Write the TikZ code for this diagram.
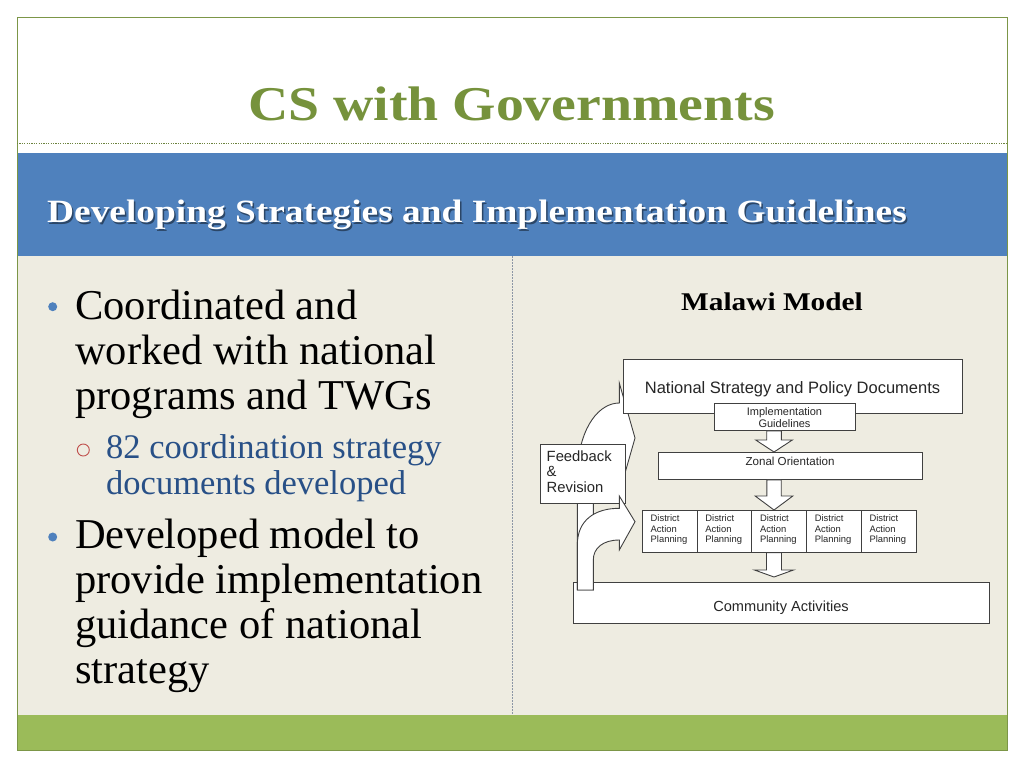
\documentclass[tikz,border=0pt]{standalone}
\usepackage{fontspec}
\setmainfont{Liberation Serif}
\newfontfamily\geob[FakeStretch=1.15]{Liberation Serif}
\newfontfamily\arialf{Liberation Sans}
\usetikzlibrary{calc}
\definecolor{titlegreen}{RGB}{118,146,60}
\definecolor{bandblue}{RGB}{79,129,189}
\definecolor{beige}{RGB}{238,236,225}
\definecolor{bargreen}{RGB}{155,187,89}
\definecolor{subblue}{RGB}{40,80,135}
\definecolor{redc}{RGB}{192,80,77}
\definecolor{linegray}{RGB}{64,64,64}
\definecolor{divgray}{RGB}{140,150,165}
\newcommand\dnarrow[6]{%
  \draw[blk] let \p1=(ax |- #1), \p2=(ax |- #2) in
    (\x1-#3pt,\y1) -- (\x1+#3pt,\y1) -- (\x1+#3pt,\y2+#5pt) -- (\x1+#4pt,\y2+#5pt)
    -- (\x1,\y2+#6pt) -- (\x1-#4pt,\y2+#5pt) -- (\x1-#3pt,\y2+#5pt) -- cycle;}
\begin{document}
\begin{tikzpicture}[x=1pt,y=-1pt,
  box/.style={draw=linegray, fill=white, line width=0.9pt, inner sep=0pt, anchor=north west},
  blk/.style={draw=linegray, fill=white, line width=0.9pt, line join=miter},
  dtxt/.style={font=\arialf\fontsize{9.4}{10.3}\selectfont, align=left, anchor=north west, inner sep=0pt, text=black!85},
  lbl/.style={inner sep=0pt, text=black!85, anchor=base},
  bul/.style={font=\fontsize{42.5}{45}\selectfont, anchor=base west, inner sep=0pt, text=black},
  sub/.style={font=\fontsize{34.5}{36}\selectfont, anchor=base west, inner sep=0pt, text=subblue},
  dot/.style={circle, fill=bandblue, inner sep=0pt, minimum size=9pt},
]
\useasboundingbox (0,0) rectangle (1024,768);
\fill[white] (0,0) rectangle (1024,768);
% slide frame
\fill[beige] (17,256) rectangle (1007,715);
\fill[bandblue] (17,153) rectangle (1007,256);
\fill[bargreen] (17,715) rectangle (1007,750);
\draw[bargreen!80!black, line width=0.8pt] (17,17) rectangle (1007,750);
\draw[bargreen!70!black, line width=0.7pt, dash pattern=on 1.2pt off 1.2pt] (17,143) -- (1007,143);
\draw[divgray, line width=0.8pt, dash pattern=on 1.5pt off 1.5pt] (512,256) -- (512,715);
% titles
\node[anchor=base, inner sep=0pt, text=titlegreen, font=\geob\bfseries\fontsize{48.5}{50}\selectfont] (title) at (511.5,120) {CS with Governments};
\node[anchor=base west, inner sep=0pt, text=black, opacity=0.45, font=\geob\bfseries\fontsize{32.5}{34}\selectfont] (bandshadow) at (48.5,224) {Developing Strategies and Implementation Guidelines};
\node[anchor=base west, inner sep=0pt, text=white, font=\geob\bfseries\fontsize{32.5}{34}\selectfont] (band) at (47,222.5) {Developing Strategies and Implementation Guidelines};
% left column
\node[dot] (d1) at (52.7,306.7) {};
\node[bul] (b1a) at (75,319) {Coordinated and};
\node[bul] (b1b) at (75,364) {worked with national};
\node[bul] (b1c) at (75,409) {programs and TWGs};
\node[circle, draw=redc, line width=0.9pt, inner sep=0pt, minimum size=12pt] (c1) at (83.3,450) {};
\node[sub] (s1a) at (106,458) {82 coordination strategy};
\node[sub] (s1b) at (106,494) {documents developed};
\node[dot] (d2) at (52.7,537) {};
\node[bul] (b2a) at (75,548) {Developed model to};
\node[bul] (b2b) at (75,593) {provide implementation};
\node[bul] (b2c) at (75,638) {guidance of national};
\node[bul] (b2d) at (75,683) {strategy};
% right column: Malawi model
\node[anchor=base, inner sep=0pt, text=black, font=\geob\bfseries\fontsize{25.5}{27}\selectfont] (mm) at (772,310) {Malawi Model};
\coordinate (ax) at (774,0);
\node[box, minimum width=416, minimum height=41] (comm) at (573,582) {};
\node[lbl, font=\arialf\fontsize{14.6}{16}\selectfont] (commt) at (781,611.5) {Community Activities};
% upper feedback arrow (behind)
\draw[blk] (577.3,590) -- (577.3,470) .. controls (580,425) and (600,403) .. (619.3,403)
  -- (619.3,383) -- (635,438) -- (619.3,493) -- (619.3,470)
  .. controls (605,470) and (593.3,480) .. (593.3,495) -- (593.3,590) -- cycle;
\node[box, minimum width=339, minimum height=54] (nat) at (623,359) {};
\node[lbl, font=\arialf\fontsize{16.5}{18}\selectfont] (natt) at (792.5,393) {National Strategy and Policy Documents};
\node[box, minimum width=141, minimum height=27] (impl) at (714,403) {};
\node[lbl, font=\arialf\fontsize{11}{12}\selectfont] (implt1) at (784.5,415.8) {Implementation};
\node[lbl, font=\arialf\fontsize{11}{12}\selectfont] (implt2) at (784.5,427.3) {Guidelines};
\node[box, minimum width=264, minimum height=27] (zon) at (658,452) {};
\node[lbl, font=\arialf\fontsize{11.6}{13}\selectfont] (zont) at (790,465) {Zonal Orientation};
\node[box, minimum width=85, minimum height=58.3] (fb) at (540,444.3) {};
\node[dtxt, font=\arialf\fontsize{14.8}{15.3}\selectfont] (fbt) at (546.5,450.5) {Feedback\\\&\\Revision};
% lower feedback arrow (front)
\draw[blk] (577.3,590) -- (577.3,545) .. controls (577.3,520) and (595,508.3) .. (619.3,508.3)
  -- (619.3,496) -- (635,521.7) -- (619.3,550) -- (619.3,540)
  .. controls (603,540) and (593.3,548) .. (593.3,560) -- (593.3,590) -- cycle;
% district boxes
\foreach \i in {0,...,4} {
  \node[box, minimum width=54.7, minimum height=41.7] (dist\i) at (642+54.7*\i,510) {};
  \node[dtxt] (distt\i) at (650.5+54.7*\i,514.8) {District\\Action\\Planning};
}
% down arrows
\dnarrow{impl.south}{zon.north}{7.3}{18.3}{12}{0}
\dnarrow{zon.south}{dist2.north}{7.2}{18.8}{14}{0}
\dnarrow{dist2.south}{comm.north}{7.5}{19.5}{12}{5}
\end{tikzpicture}
\end{document}
